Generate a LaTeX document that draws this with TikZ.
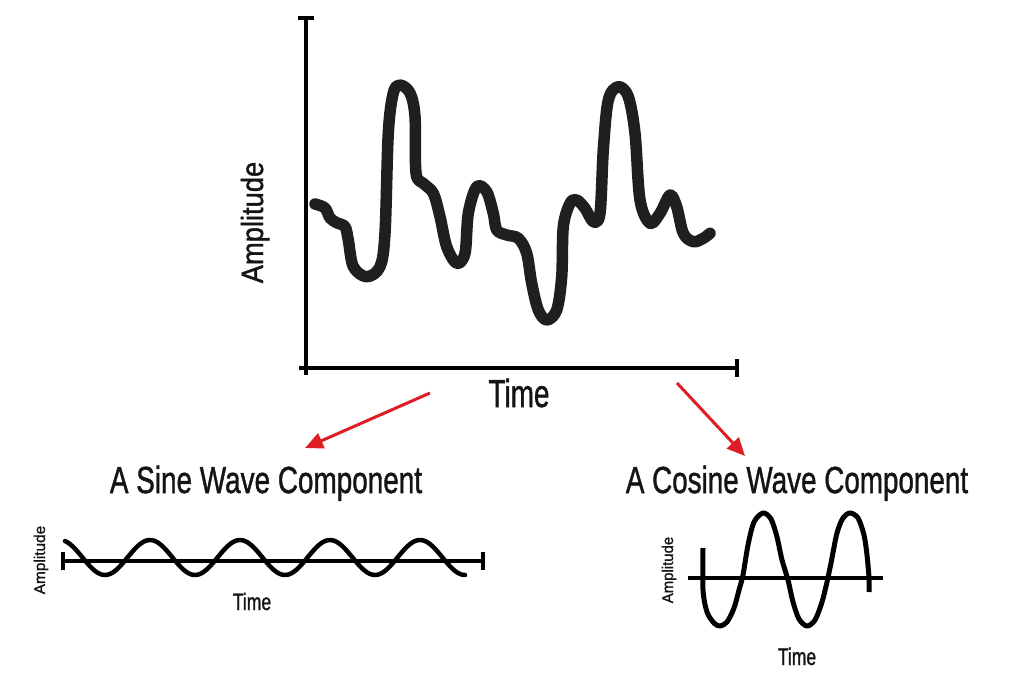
\documentclass[tikz,border=0pt]{standalone}
\usepackage{fontspec}
\setmainfont{Liberation Sans}[FakeBold=1.3]
\usepackage{graphicx}
\usetikzlibrary{arrows.meta}
\newcommand\ctxt[3]{\scalebox{#1}[1]{\fontsize{#2}{#2}\selectfont #3}}
\definecolor{arrowred}{RGB}{222,30,36}
\tikzset{
  axisline/.style={line width=4pt, black},
  wavemain/.style={line width=11.5pt, black!88, line cap=round, line join=round},
  wavesmall/.style={line width=4.5pt, black, line cap=round, line join=round},
  redarrow/.style={line width=3pt, arrowred, -{Triangle[length=18pt,width=16pt]}},
  lbl/.style={inner sep=0pt, anchor=base, text=black!92}
}
\begin{document}
\begin{tikzpicture}[x=1pt,y=-1pt]
\useasboundingbox (0,0) rectangle (1024,683);
\fill[white] (0,0) rectangle (1024,683);

% main axes
\draw[axisline] (306,18) -- (306,375);
\draw[axisline] (298,18) -- (314,18);
\draw[axisline] (299,368) -- (737,368);
\draw[axisline] (737,359) -- (737,377);

% main signal
\draw[wavemain] plot[smooth, tension=0.55] coordinates {
(315,204) (325,208) (330,218) (336.7,222.7) (345,226.7) (348.3,240) (353.3,266.7)
(366.7,276.7) (380,266.7) (385,233) (388.3,133) (393.3,93) (400,85) (410,93)
(415,116.7) (416,173) (423.3,183.3) (433.3,193.3) (440,216.7) (446.7,246.7)
(456.7,263.3) (465,253.3) (468.3,213.3) (476.7,186.7) (486.7,191.7) (493.3,213.3)
(496.7,230) (506.7,235) (518.3,238.3) (526.7,253.3) (531.7,283.3) (538.3,310)
(546.7,320) (556.7,310) (561.7,276.7) (563.3,226.7) (570,203.3) (576.7,200)
(585,208.3) (593.3,221.7) (600,213.3) (603.3,150) (608.3,100) (618.3,86.7)
(628.3,96.7) (635,133.3) (640,200) (650,223.3) (660,213.3) (670,195)
(676.7,206.7) (683.3,233.3) (693.3,241.7) (703.3,238.3) (710,233.3)};

\node[lbl] (mainTime) at (519,407) {\ctxt{0.715}{39pt}{Time}};
\node[lbl, rotate=90] (mainAmp) at (263,222.5) {\ctxt{0.89}{30.7pt}{Amplitude}};

% arrows
\coordinate (la) at (430,393);
\coordinate (lb) at (305,448);
\coordinate (ra) at (677,383);
\coordinate (rb) at (745,456);
\draw[redarrow] (la) -- (lb);
\draw[redarrow] (ra) -- (rb);

% titles
\node[lbl] (sineTitle) at (266,493) {\ctxt{0.74}{37.7pt}{A Sine Wave Component}};
\node[lbl] (cosTitle) at (797,493) {\ctxt{0.738}{37.7pt}{A Cosine Wave Component}};

% sine plot
\draw[axisline] (63,561) -- (483,561);
\draw[axisline] (63,552) -- (63,570);
\draw[axisline] (483,552) -- (483,570);
\draw[wavesmall] plot[domain=65:465, samples=160] (\x, {557.5-17.5*cos(4*(\x-150))});
\node[lbl] (sineTime) at (252,610) {\ctxt{0.74}{23.7pt}{Time}};
\node[lbl, rotate=90] (sineAmp) at (45,560) {\ctxt{1.0}{15.4pt}{Amplitude}};

% cosine plot
\draw[axisline] (688,578) -- (883,578);
\draw[line width=5pt, black, line join=round] plot[smooth, tension=0.5] coordinates {
(703,548) (703,590) (707,612) (714,623) (720,626) (727,622) (734,608) (739,590)
(743,575) (748,545) (754,522) (763,513) (771,519) (777,537) (782,560) (788,580)
(793,602) (799,619) (807,626) (815,620) (822,602) (827,582) (831,563) (837,533)
(843,518) (850,513) (858,518) (864,535) (867,555) (869,578) (869,592)};
\node[lbl] (cosTime) at (797,665) {\ctxt{0.73}{24pt}{Time}};
\node[lbl, rotate=90] (cosAmp) at (673,570) {\ctxt{0.97}{15.4pt}{Amplitude}};
\end{tikzpicture}
\end{document}
